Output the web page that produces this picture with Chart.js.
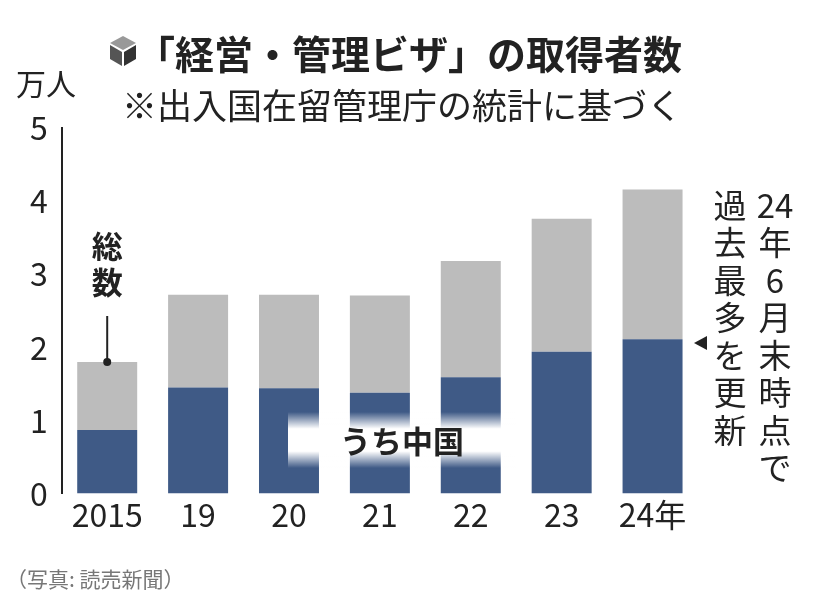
<!DOCTYPE html>
<html>
<head>
<meta charset="utf-8">
<script src="https://cdn.jsdelivr.net/npm/chart.js@4"></script>
<style>
  body { margin: 0; background: #fff; }
  #wrap { width: 828px; height: 608px; position: relative; }
</style>
</head>
<body>
<div id="wrap"><canvas id="chart"></canvas></div>
<script>
// values in 万人
const years = ['2015', '19', '20', '21', '22', '23', '24年'];
const totals = [1.80, 2.72, 2.72, 2.71, 3.18, 3.76, 4.16];
const china = [0.87, 1.45, 1.44, 1.38, 1.59, 1.94, 2.11];
const yTicks = [0, 1, 2, 3, 4, 5];

const FONT = '"Noto Sans CJK JP", "Noto Sans", sans-serif';
const BLUE = '#3f5a86';
const GRAY = '#bcbcbc';

// total minus china = the gray part on top
const others = totals.map((t, i) => +(t - china[i]).toFixed(2));

// vertical text, one cell per array item
function vText(ctx, cells, x, y, step) {
  cells.forEach((c, i) => ctx.fillText(c, x, y + i * step));
}

const decorations = {
  id: 'decorations',
  afterDraw(chart) {
    const ctx = chart.ctx;
    const xs = chart.scales.x, ys = chart.scales.y;
    ctx.save();
    ctx.textBaseline = 'middle';

    // title with a little cube
    ctx.fillStyle = '#999';
    ctx.beginPath();
    ctx.moveTo(123, 36); ctx.lineTo(136, 43); ctx.lineTo(123, 50); ctx.lineTo(110, 43);
    ctx.fill();
    ctx.fillStyle = '#555';
    ctx.beginPath();
    ctx.moveTo(110, 45); ctx.lineTo(122, 52); ctx.lineTo(122, 66); ctx.lineTo(110, 59);
    ctx.fill();
    ctx.fillStyle = '#333';
    ctx.beginPath();
    ctx.moveTo(124, 52); ctx.lineTo(136, 45); ctx.lineTo(136, 59); ctx.lineTo(124, 66);
    ctx.fill();

    ctx.fillStyle = '#222';
    ctx.textAlign = 'left';
    ctx.font = 'bold 39px ' + FONT;
    ctx.fillText('「経営・管理ビザ」の取得者数', 136, 54);
    ctx.font = '35px ' + FONT;
    ctx.fillText('※出入国在留管理庁の統計に基づく', 122, 106);
    ctx.font = '30px ' + FONT;
    ctx.fillText('万人', 16, 84);

    // 総数 pointer on 2015 bar
    const x0 = xs.getPixelForValue(0);
    const yTop = ys.getPixelForValue(totals[0]);
    ctx.textAlign = 'center';
    ctx.font = 'bold 31px ' + FONT;
    vText(ctx, ['総', '数'], x0, 246, 36);
    ctx.strokeStyle = '#222';
    ctx.lineWidth = 2;
    ctx.beginPath();
    ctx.moveTo(x0, 316); ctx.lineTo(x0, yTop);
    ctx.stroke();
    ctx.beginPath();
    ctx.arc(x0, yTop, 4, 0, Math.PI * 2);
    ctx.fill();

    // うち中国 label with soft white box
    const bx1 = 288, bx2 = 516, by1 = 412, by2 = 468;
    const gv = ctx.createLinearGradient(0, by1, 0, by2);
    gv.addColorStop(0, 'rgba(255,255,255,0)');
    gv.addColorStop(0.3, 'rgba(255,255,255,1)');
    gv.addColorStop(0.7, 'rgba(255,255,255,1)');
    gv.addColorStop(1, 'rgba(255,255,255,0)');
    ctx.fillStyle = gv;
    ctx.fillRect(bx1, by1, bx2 - bx1, by2 - by1);
    ctx.fillStyle = '#222';
    ctx.font = 'bold 31px ' + FONT;
    ctx.fillText('うち中国', (bx1 + bx2) / 2, 441);

    // right note
    ctx.font = '33px ' + FONT;
    vText(ctx, ['24', '年', '6', '月', '末', '時', '点', 'で'], 775, 205, 37.5);
    vText(ctx, ['過', '去', '最', '多', 'を', '更', '新'], 730, 205, 37.5);
    ctx.beginPath();
    ctx.moveTo(694, 343); ctx.lineTo(707, 336); ctx.lineTo(707, 350);
    ctx.fill();

    // credit
    ctx.textAlign = 'left';
    ctx.fillStyle = '#777';
    ctx.font = '21px ' + FONT;
    ctx.fillText('（写真: 読売新聞）', 6, 579);
    ctx.restore();
  }
};

new Chart(document.getElementById('chart'), {
  type: 'bar',
  data: {
    labels: years,
    datasets: [
      { label: 'うち中国', data: china, backgroundColor: BLUE },
      { label: '総数', data: others, backgroundColor: GRAY }
    ]
  },
  options: {
    responsive: true,
    maintainAspectRatio: false,
    animation: false,
    layout: { padding: { top: 128, left: 24, right: 130, bottom: 72 } },
    datasets: { bar: { barPercentage: 0.66, categoryPercentage: 1 } },
    plugins: { legend: { display: false }, tooltip: { enabled: false } },
    scales: {
      x: {
        stacked: true,
        grid: { display: false, drawTicks: false },
        border: { display: false },
        ticks: { color: '#222', font: { size: 32, family: FONT }, padding: 2 }
      },
      y: {
        stacked: true,
        min: 0, max: 5,
        afterBuildTicks: axis => { axis.ticks = yTicks.map(v => ({ value: v })); },
        grid: { display: false, drawOnChartArea: false, drawTicks: true, tickLength: 8, color: '#222' },
        border: { display: true, color: '#222', width: 2 },
        ticks: { color: '#222', font: { size: 32, family: FONT }, padding: 6 }
      }
    }
  },
  plugins: [decorations]
});
</script>
</body>
</html>
